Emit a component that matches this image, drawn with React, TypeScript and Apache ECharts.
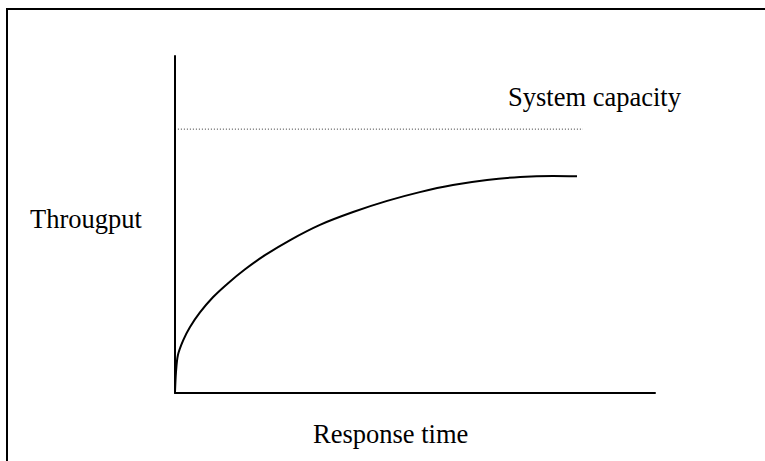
import React, { useEffect, useRef } from "react";
import * as echarts from "echarts";

// Response time (x) and throughput (y), in 0–100 axis units
const responseTime = [0, 0.2, 0.6, 1.7, 3.1, 5.2, 7.9, 11.0, 14.6, 18.75, 24.0, 30.2, 37.1, 44.2, 51.0, 57.9, 65.0, 71.9, 78.75, 83.75];
const throughput = [0.2, 6.1, 11.2, 15.6, 19.5, 23.9, 28.4, 32.5, 36.7, 40.9, 45.4, 49.9, 53.7, 57.0, 59.6, 61.7, 63.2, 64.1, 64.4, 64.3];

const capacityLevel = 78.3;
const capacityRange = [0.6, 85];

const yLabel = "Througput";
const xLabel = "Response time";
const capacityLabel = "System capacity";

const FONT = "Liberation Serif, Times New Roman, serif";

export default function App() {
  const ref = useRef<HTMLDivElement>(null);

  useEffect(() => {
    if (!ref.current) return;
    const chart = echarts.init(ref.current, null, { renderer: "svg" });
    const curve = responseTime.map((x, i) => [x, throughput[i]]);
    const capacity = capacityRange.map((x) => [x, capacityLevel]);
    const textStyle = {
      fontFamily: FONT,
      fontSize: 26.5,
      fill: "#000",
      align: "left",
      verticalAlign: "middle",
    };
    chart.setOption({
      animation: false,
      backgroundColor: "#fff",
      grid: { left: 175, right: 110, top: 56, bottom: 68 },
      xAxis: {
        type: "value",
        min: 0,
        max: 100,
        axisLine: { show: true, lineStyle: { color: "#000", width: 2 } },
        axisTick: { show: false },
        axisLabel: { show: false },
        splitLine: { show: false },
      },
      yAxis: {
        type: "value",
        min: 0,
        max: 100,
        axisLine: { show: true, lineStyle: { color: "#000", width: 2 } },
        axisTick: { show: false },
        axisLabel: { show: false },
        splitLine: { show: false },
      },
      series: [
        {
          type: "line",
          data: curve,
          smooth: 0.3,
          symbol: "none",
          lineStyle: { color: "#000", width: 2 },
        },
        {
          type: "line",
          data: capacity,
          symbol: "none",
          lineStyle: { color: "#333", width: 1, type: [1, 2] },
        },
      ],
      graphic: [
        {
          type: "rect",
          shape: { x: 7, y: 9, width: 800, height: 500 },
          style: { fill: "none", stroke: "#000", lineWidth: 2 },
          silent: true,
        },
        { type: "text", x: 30, y: 219, style: { ...textStyle, text: yLabel } },
        { type: "text", x: 313, y: 434, style: { ...textStyle, text: xLabel } },
        { type: "text", x: 508, y: 97, style: { ...textStyle, text: capacityLabel } },
      ],
    });
    return () => chart.dispose();
  }, []);

  return (
    <div
      ref={ref}
      style={{ position: "fixed", left: 0, top: 0, width: 765, height: 461 }}
    />
  );
}
